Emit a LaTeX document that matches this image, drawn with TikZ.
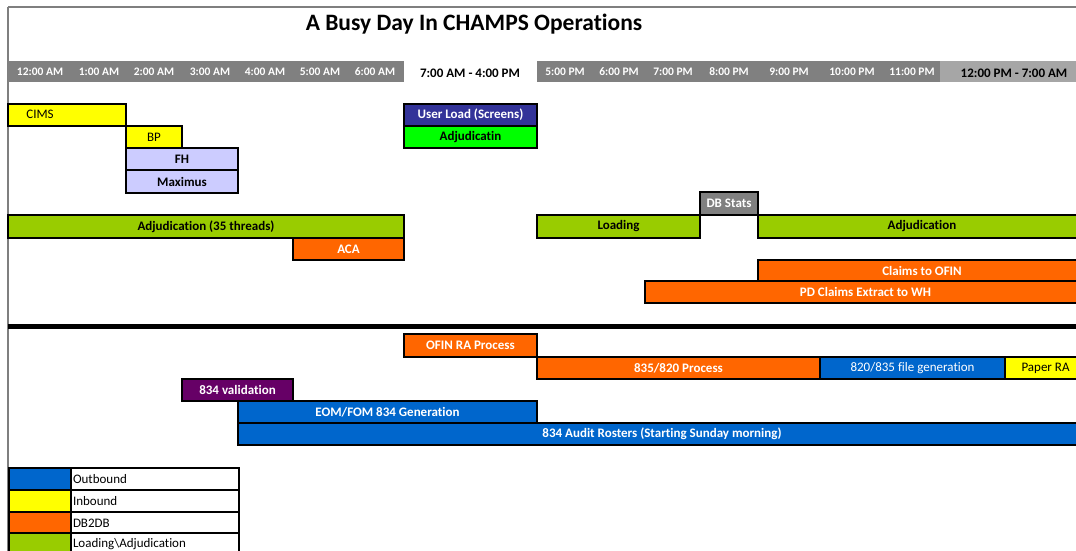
\documentclass[tikz,border=0pt]{standalone}
\usepackage{fontspec}
\setmainfont{Carlito}[Ligatures=NoCommon]
\definecolor{cYellow}{HTML}{FFFF00}
\definecolor{cLav}{HTML}{CCCCFF}
\definecolor{cNavy}{HTML}{333399}
\definecolor{cLime}{HTML}{00FF00}
\definecolor{cOlive}{HTML}{99CC00}
\definecolor{cOrange}{HTML}{FF6600}
\definecolor{cGray}{HTML}{808080}
\definecolor{cPlum}{HTML}{660066}
\definecolor{cBlue}{HTML}{0066CC}
\definecolor{cLight}{HTML}{A6A6A6}
\definecolor{cFrame}{HTML}{7F7F7F}

% \gbar{name}{x left}{x right}{y top}{y bottom}{style}{text}
\newcommand{\gbar}[7]{%
  \node[barbox,#6,minimum width={(#3)-(#2)},minimum height={(#5)-(#4)},
        anchor=north west] (#1) at (#2,#4) {#7};}

\begin{document}
\begin{tikzpicture}[x=1pt,y=-1pt,
  barbox/.style={draw=black,line width=2.4pt,inner sep=0pt,outer sep=0pt,
                 font=\fontsize{13}{15}\selectfont\bfseries},
  plain/.style={font=\fontsize{13}{15}\selectfont},
  wtext/.style={text=white},
  hour/.style={text=white,font=\fontsize{11.5}{13}\selectfont\bfseries},
  span/.style={text=black,font=\fontsize{13}{15}\selectfont\bfseries},
  legsw/.style={draw=black,line width=2pt,inner sep=0pt,minimum width=62,
                minimum height=22,anchor=north west},
  legtx/.style={draw=black,fill=white,line width=2pt,inner sep=0pt,
                minimum width=168,minimum height=22,anchor=north west,
                text width=164,align=left,font=\fontsize{13}{15}\selectfont},
  frame/.style={draw=cFrame,line width=1.5pt}]
\useasboundingbox (0,0) rectangle (1076,550);
\clip (0,0) rectangle (1076,550);
\fill[white] (0,0) rectangle (1076,550);

% sheet border
\draw[frame] (8,7) -- (1090,7);
\draw[frame] (8,7) -- (8,560);

% title
\node[font=\fontsize{23.5}{28}\selectfont\bfseries] (title) at (474,24)
  {A Busy Day In CHAMPS Operations};

% time scale
\fill[cGray] (8,61) rectangle (404,82);
\fill[cGray] (537,61) rectangle (940,82);
\fill[cLight] (940,61) rectangle (1076,82);
\node[hour] (h00) at (40,72) {12:00 AM};
\node[hour] (h01) at (99,72) {1:00 AM};
\node[hour] (h02) at (154,72) {2:00 AM};
\node[hour] (h03) at (210,72) {3:00 AM};
\node[hour] (h04) at (265,72) {4:00 AM};
\node[hour] (h05) at (320,72) {5:00 AM};
\node[hour] (h06) at (375,72) {6:00 AM};
\node[span] (hday) at (470,73) {7:00 AM - 4:00 PM};
\node[hour] (h17) at (565,72) {5:00 PM};
\node[hour] (h18) at (619,72) {6:00 PM};
\node[hour] (h19) at (673,72) {7:00 PM};
\node[hour] (h20) at (729,72) {8:00 PM};
\node[hour] (h21) at (789,72) {9:00 PM};
\node[hour] (h22) at (852,72) {10:00 PM};
\node[hour] (h23) at (912,72) {11:00 PM};
\node[span] (hnight) at (1014,73) {12:00 PM - 7:00 AM};

% inbound and screen jobs
\gbar{cims}{8}{126}{104}{126}{fill=cYellow}{}
\node[plain] (cimstext) at (40,114) {CIMS};
\gbar{bp}{126}{182}{126}{148}{fill=cYellow,plain}{BP}
\gbar{fh}{126}{238}{148}{170}{fill=cLav}{FH}
\gbar{maximus}{126}{238}{170}{193}{fill=cLav}{Maximus}
\gbar{userload}{404}{537}{104}{126}{fill=cNavy,wtext}{User Load (Screens)}
\gbar{adjday}{404}{537}{126}{148}{fill=cLime}{Adjudicatin}

% loading and adjudication
\gbar{dbstats}{700}{758}{192}{215}{fill=cGray,wtext}{DB Stats}
\gbar{adjnight}{8}{404}{215}{238}{fill=cOlive}{Adjudication (35 threads)}
\gbar{loading}{537}{700}{215}{238}{fill=cOlive}{Loading}
\gbar{adjeve}{758}{1086}{215}{238}{fill=cOlive}{Adjudication}
\gbar{aca}{293}{404}{238}{260}{fill=cOrange,wtext}{ACA}
\gbar{claims}{758}{1086}{260}{281}{fill=cOrange,wtext}{Claims to OFIN}
\gbar{pdextract}{645}{1086}{281}{303}{fill=cOrange,wtext}{PD Claims Extract to WH}

% divider
\draw[line width=5pt] (8,326) -- (1090,326);

% payment and outbound jobs
\gbar{ofinra}{404}{537}{334}{357}{fill=cOrange,wtext}{OFIN RA Process}
\gbar{proc835}{537}{820}{357}{379}{fill=cOrange,wtext}{835/820 Process}
\gbar{file820}{820}{1005}{357}{379}{fill=cBlue,wtext,plain}{820/835 file generation}
\gbar{paperra}{1005}{1086}{357}{379}{fill=cYellow,plain}{Paper RA}
\gbar{val834}{182}{293}{379}{401}{fill=cPlum,wtext}{834 validation}
\gbar{eom834}{238}{537}{401}{423}{fill=cBlue,wtext}{EOM/FOM 834 Generation}
\gbar{audit834}{238}{1086}{423}{445}{fill=cBlue,wtext}{834 Audit Rosters (Starting Sunday morning)}

% legend
\node[legsw,fill=cBlue] (swout) at (8,467) {};
\node[legtx] (lgout) at (70,467) {Outbound};
\node[legsw,fill=cYellow] (swin) at (8,489) {};
\node[legtx] (lgin) at (70,489) {Inbound};
\node[legsw,fill=cOrange] (swdb) at (8,511) {};
\node[legtx] (lgdb) at (70,511) {DB2DB};
\node[legsw,fill=cOlive] (swload) at (8,532) {};
\node[legtx] (lgload) at (70,532) {Loading\textbackslash Adjudication};
\end{tikzpicture}
\end{document}
